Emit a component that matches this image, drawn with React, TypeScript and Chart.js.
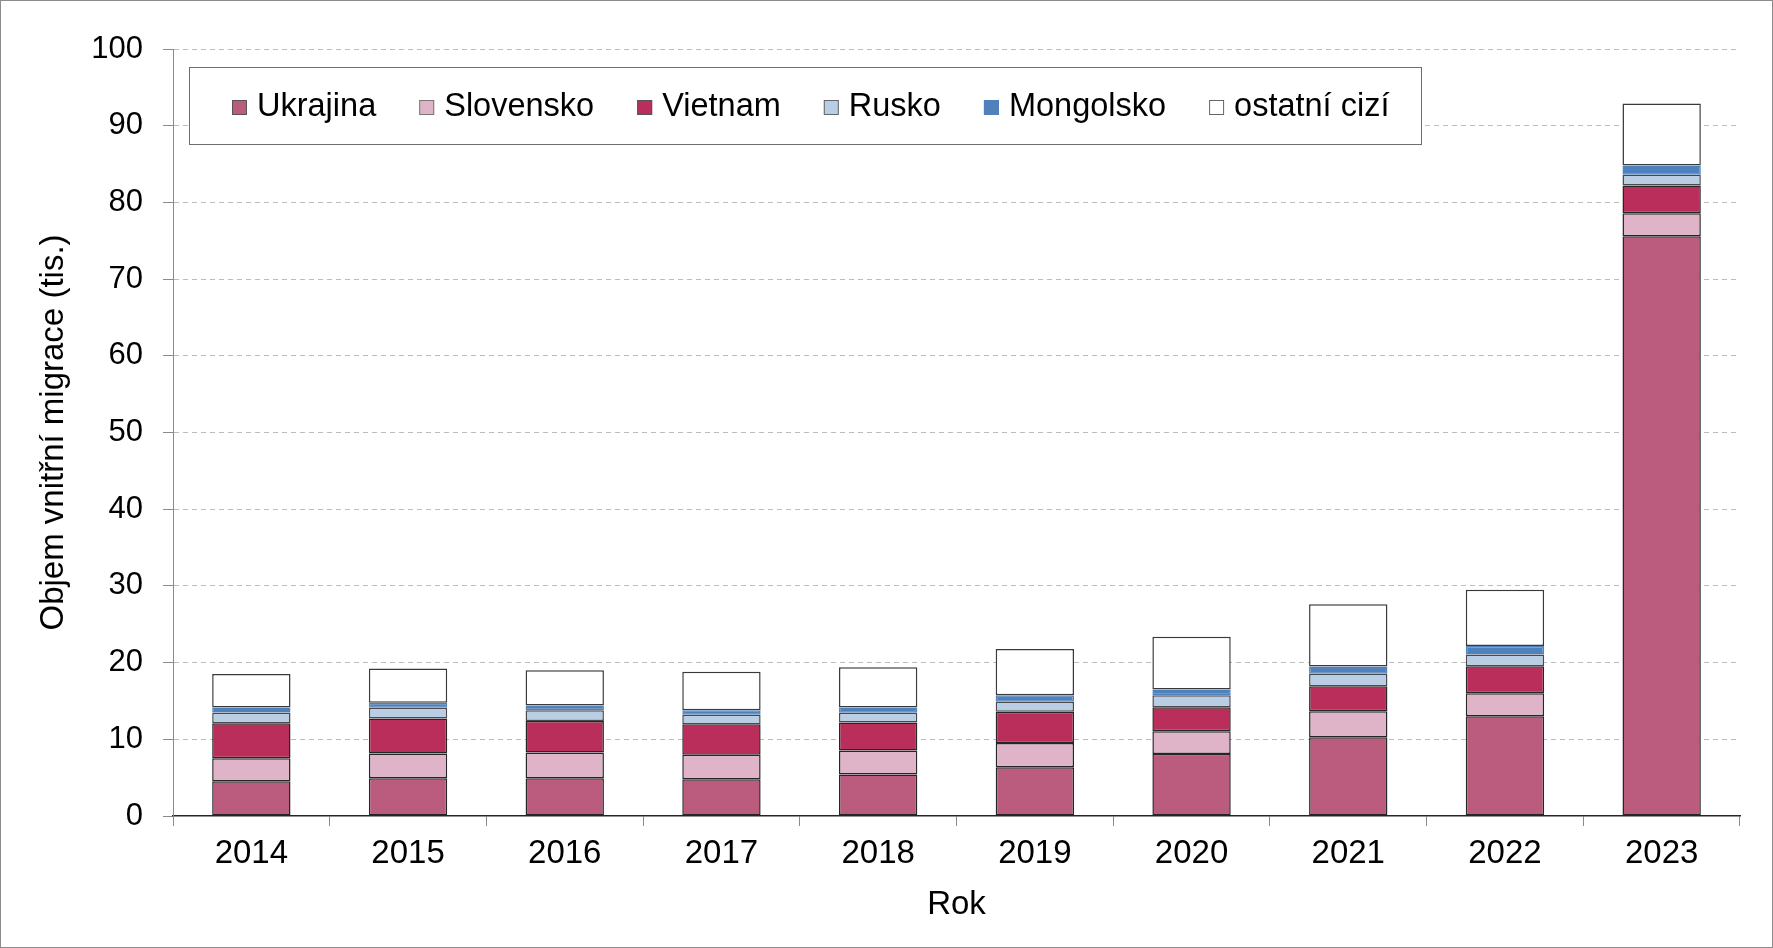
import React, { useEffect, useRef } from "react";
import { Chart, registerables } from "chart.js";

Chart.register(...registerables);

const years = ["2014", "2015", "2016", "2017", "2018", "2019", "2020", "2021", "2022", "2023"];
const ukrajina = [4.53, 4.92, 4.92, 4.79, 5.4, 6.35, 8.09, 10.27, 13.0, 75.6];
const slovensko = [3.0, 3.22, 3.35, 3.21, 3.13, 3.18, 2.96, 3.39, 3.0, 3.0];
const vietnam = [4.57, 4.56, 4.13, 3.97, 3.67, 4.07, 3.14, 3.27, 3.54, 3.6];
const rusko = [1.4, 1.4, 1.4, 1.23, 1.25, 1.3, 1.56, 1.61, 1.52, 1.4];
const mongolsko = [0.64, 0.65, 0.6, 0.6, 0.69, 0.85, 0.75, 0.96, 1.09, 1.2];
const ostatni = [4.36, 4.48, 4.6, 5.0, 5.26, 6.01, 6.87, 8.1, 7.35, 8.1];
const yTicks = [0, 10, 20, 30, 40, 50, 60, 70, 80, 90, 100];

const seriesNames = ["Ukrajina", "Slovensko", "Vietnam", "Rusko", "Mongolsko", "ostatní cizí"];
const seriesValues = [ukrajina, slovensko, vietnam, rusko, mongolsko, ostatni];
const fillColors = ["#bb5b7e", "#e0b4c8", "#b92e5b", "#b9cde5", "#4f81bd", "#ffffff"];
const edgeColors = ["#262626", "#262626", "#262626", "#4a4a4a", "#4f81bd", "#3a3a3a"];
const swatchEdges = ["#555555", "#777777", "#555555", "#666666", "#4f81bd", "#666666"];

const FONT = "'Liberation Sans', Arial, sans-serif";

const frameAndLegend = {
  id: "frameAndLegend",
  beforeDraw(chart: any) {
    const ctx = chart.ctx;
    ctx.save();
    ctx.fillStyle = "#ffffff";
    ctx.fillRect(0, 0, chart.width, chart.height);
    ctx.strokeStyle = "#8c8c8c";
    ctx.lineWidth = 1;
    ctx.strokeRect(0.5, 0.5, chart.width - 1, chart.height - 1);
    ctx.restore();
  },
  afterDraw(chart: any) {
    const ctx = chart.ctx;
    ctx.save();
    ctx.fillStyle = "#ffffff";
    ctx.fillRect(189.5, 67.5, 1232, 77);
    ctx.strokeStyle = "#6e6e6e";
    ctx.lineWidth = 1;
    ctx.strokeRect(189.5, 67.5, 1232, 77);
    ctx.font = `32.5px ${FONT}`;
    ctx.textBaseline = "alphabetic";
    ctx.textAlign = "left";
    let x = 232;
    chart.data.datasets.forEach((ds: any, i: number) => {
      ctx.fillStyle = ds.backgroundColor;
      ctx.fillRect(x, 100, 15, 15);
      ctx.strokeStyle = swatchEdges[i];
      ctx.strokeRect(x + 0.5, 100.5, 14, 14);
      ctx.fillStyle = "#000000";
      ctx.fillText(ds.label, x + 25, 116);
      const w = ctx.measureText(ds.label).width;
      x = x + 25 + w + 43;
    });
    ctx.restore();
  },
};

export default function App() {
  const canvasRef = useRef<HTMLCanvasElement | null>(null);

  useEffect(() => {
    if (!canvasRef.current) return;
    const chart = new Chart(canvasRef.current, {
      type: "bar",
      data: {
        labels: years,
        datasets: seriesNames.map((name, i) => ({
          label: name,
          data: seriesValues[i],
          backgroundColor: fillColors[i],
          borderColor: edgeColors[i],
          borderWidth: 1.5,
          borderSkipped: false,
          barPercentage: 0.5,
          categoryPercentage: 1.0,
        })),
      },
      options: {
        animation: false,
        responsive: false,
        devicePixelRatio: 1,
        layout: { padding: { left: 1, top: 49, right: 33, bottom: 1 } },
        plugins: {
          legend: { display: false },
          tooltip: { enabled: false },
        },
        scales: {
          x: {
            stacked: true,
            grid: {
              drawOnChartArea: false,
              drawTicks: true,
              tickLength: 10,
              tickColor: "#8a8a8a",
              offset: true,
            },
            border: { display: true, color: "#262626", width: 1.5 },
            ticks: {
              color: "#000000",
              font: { family: FONT, size: 33, lineHeight: 1.2 },
              padding: 8,
              maxRotation: 0,
              autoSkip: false,
            },
            title: {
              display: true,
              text: "Rok",
              color: "#000000",
              font: { family: FONT, size: 33, lineHeight: 1.2 },
              padding: { top: 0, bottom: 22 },
            },
            afterFit: (scale: any) => {
              scale.height = 131;
            },
          },
          y: {
            stacked: true,
            min: 0,
            max: 100,
            afterBuildTicks: (scale: any) => {
              scale.ticks = yTicks.map((v) => ({ value: v }));
            },
            grid: {
              color: (c: any) => (c.tick && c.tick.value === 0 ? "rgba(0,0,0,0)" : "#bdbdbd"),
              lineWidth: 1,
              drawTicks: true,
              tickLength: 10,
              tickColor: "#8a8a8a",
              tickBorderDash: [],
            },
            border: { display: true, color: "#8a8a8a", width: 1, dash: [5, 4] },
            ticks: {
              color: "#000000",
              font: { family: FONT, size: 31, lineHeight: 1.2 },
              padding: 20,
            },
            title: {
              display: true,
              text: "Objem vnitřní migrace (tis.)",
              color: "#000000",
              font: { family: FONT, size: 33, lineHeight: 1.2 },
              padding: { top: 33, bottom: 0 },
            },
            afterFit: (scale: any) => {
              scale.width = 172;
            },
          },
        },
      },
      plugins: [frameAndLegend],
    });
    return () => chart.destroy();
  }, []);

  return (
    <div style={{ position: "fixed", left: 0, top: 0, width: 1773, height: 948, background: "#fff" }}>
      <canvas ref={canvasRef} width={1773} height={948} style={{ display: "block", width: 1773, height: 948 }} />
    </div>
  );
}
